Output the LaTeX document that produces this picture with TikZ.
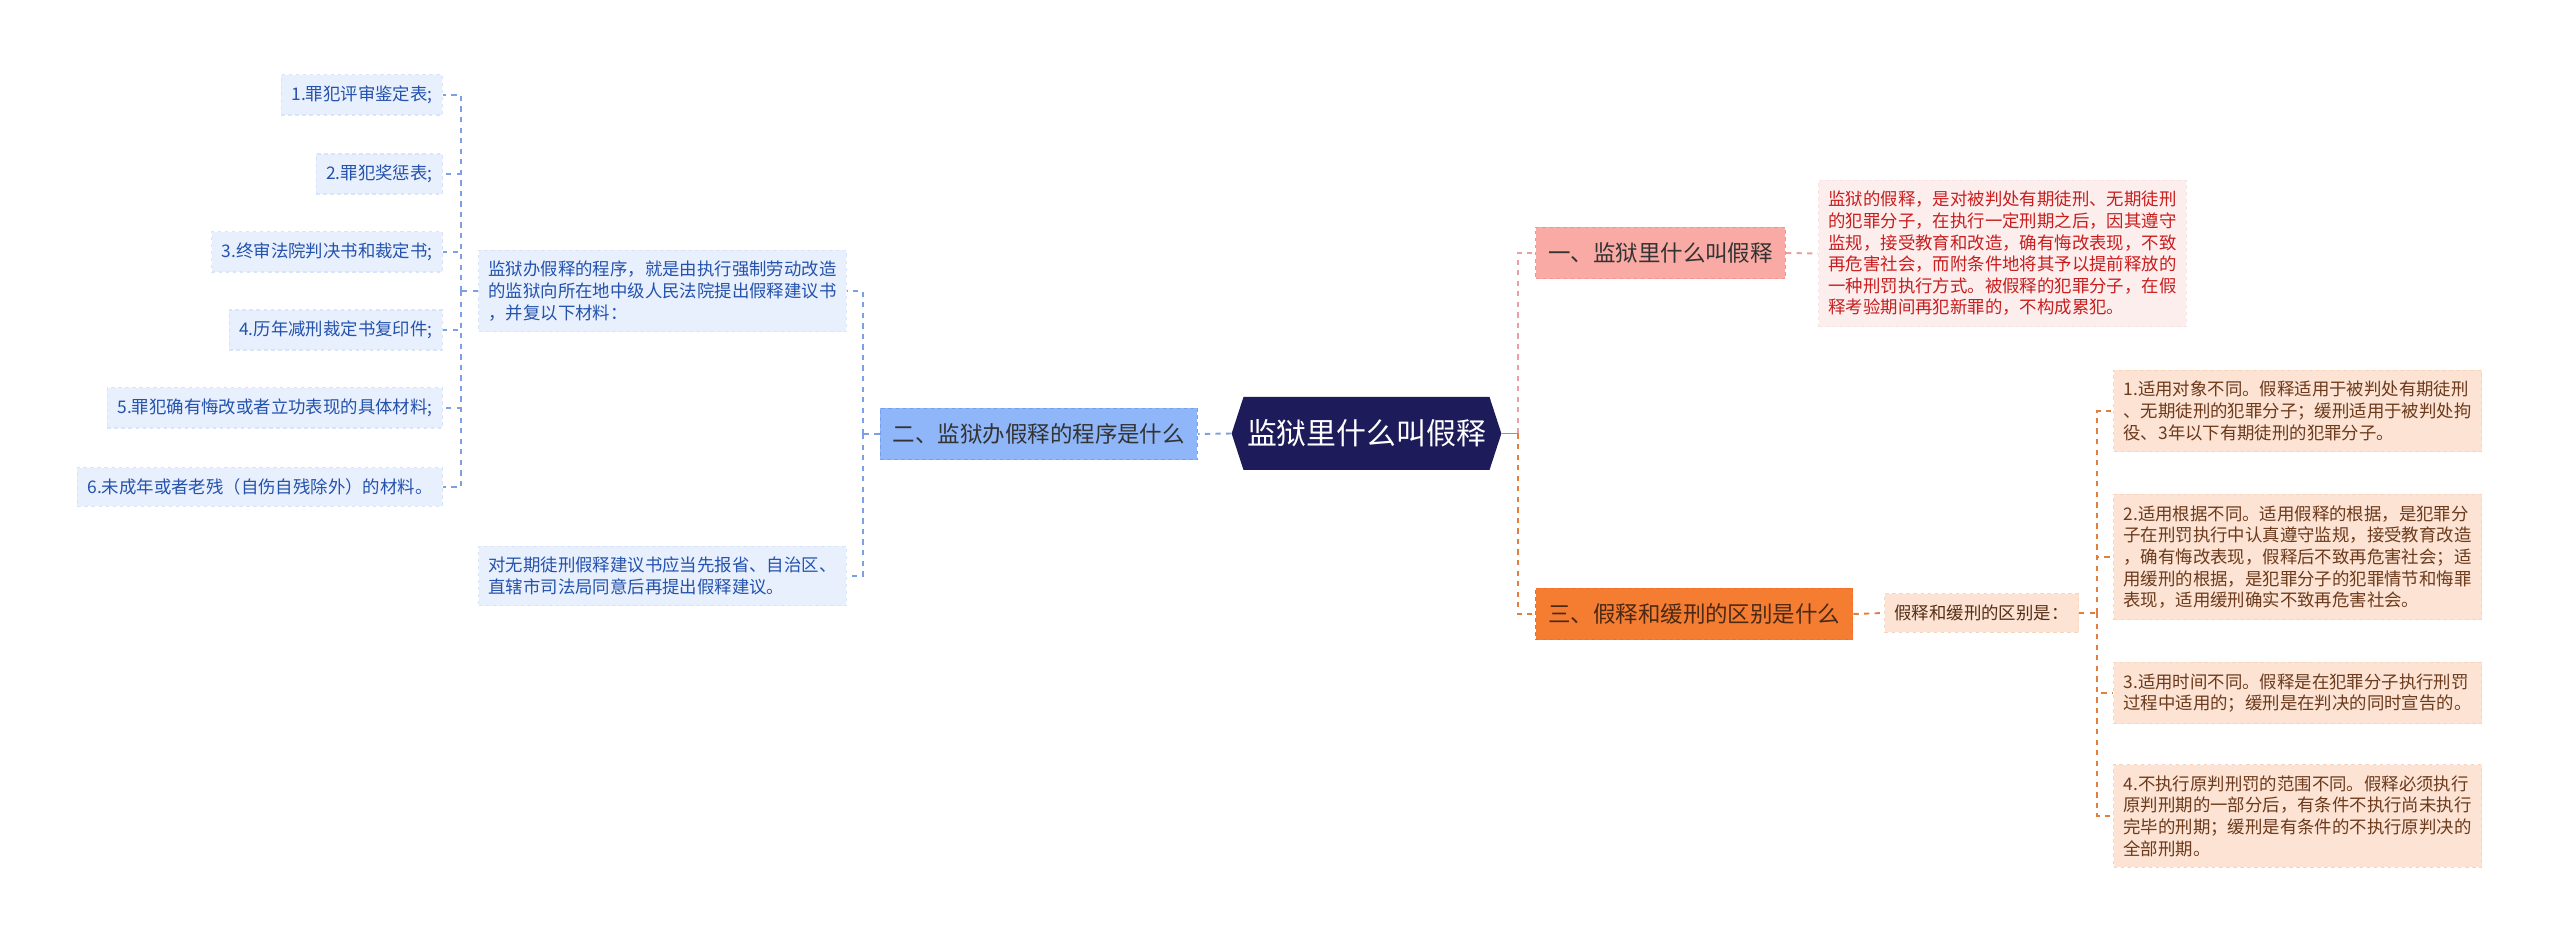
\documentclass[tikz,border=0pt]{standalone}
\usepackage{fontspec}
\setmainfont{Noto Sans CJK SC}
\usepackage{tikz}
\usetikzlibrary{positioning,shapes.symbols}
\definecolor{rootblue}{RGB}{29,27,89}
\definecolor{blueline}{RGB}{125,160,228}
\definecolor{bluehead}{RGB}{143,182,248}
\definecolor{blueedge}{RGB}{118,158,238}
\definecolor{bluebox}{RGB}{232,240,253}
\definecolor{bluetext}{RGB}{36,82,172}
\definecolor{pinkline}{RGB}{232,160,165}
\definecolor{pinkhead}{RGB}{249,170,164}
\definecolor{pinkbox}{RGB}{253,238,238}
\definecolor{pinktext}{RGB}{200,30,30}
\definecolor{orangeline}{RGB}{226,126,62}
\definecolor{orangehead}{RGB}{245,125,50}
\definecolor{orangebox}{RGB}{252,227,211}
\definecolor{orangetext}{RGB}{108,58,28}
\definecolor{darktext}{RGB}{51,51,51}

\begin{document}
\begin{tikzpicture}[
  bline/.style={draw=blueline, line width=1.1pt, dash pattern=on 3pt off 3pt},
  pline/.style={draw=pinkline, line width=1.1pt, dash pattern=on 3pt off 3pt},
  oline/.style={draw=orangeline, line width=1.1pt, dash pattern=on 3pt off 3pt},
  rootnode/.style={shape=signal, signal to=west and east, signal pointer angle=144,
    fill=rootblue, text=white, minimum height=1.46cm, inner xsep=2pt,
    font=\fontsize{17}{20}\selectfont},
  head/.style={inner xsep=0.25cm, inner ysep=0.31cm, line width=0.6pt,
    dash pattern=on 2pt off 2pt, font=\fontsize{12.8}{15}\selectfont},
  leaf/.style={inner xsep=0.2cm, inner ysep=0.22cm, align=left, line width=0.6pt,
    dash pattern=on 2pt off 2pt, font=\fontsize{9.9}{12.3}\selectfont},
  bluenode/.style={leaf, fill=bluebox, draw=bluebox!85!blueline, text=bluetext},
  pinknode/.style={leaf, fill=pinkbox, draw=pinkbox!85!pinkline, text=pinktext},
  orangenode/.style={leaf, fill=orangebox, draw=orangebox!85!orangeline, text=orangetext}
]
  \useasboundingbox (0,0) rectangle (51.2,-18.92);

  \node[rootnode] (root) at (27.33,-8.67) {监狱里什么叫假释};

  \node[head, fill=bluehead, draw=blueedge, text=darktext, anchor=east] (proc) at (23.96,-8.68) {二、监狱办假释的程序是什么};
  \node[head, fill=pinkhead, draw=pinkhead!85!red, text=darktext, anchor=west] (what) at (30.70,-5.06) {一、监狱里什么叫假释};
  \node[head, fill=orangehead, draw=orangehead!85!red, text=orangetext!70!black, anchor=west] (diff) at (30.70,-12.28) {三、假释和缓刑的区别是什么};

  \node[bluenode, anchor=east] (procA) at (16.94,-5.82) {监狱办假释的程序，就是由执行强制劳动改造\\的监狱向所在地中级人民法院提出假释建议书\\，并复以下材料：};
  \node[bluenode, anchor=east] (procB) at (16.94,-11.52) {对无期徒刑假释建议书应当先报省、自治区、\\直辖市司法局同意后再提出假释建议。};

  \node[bluenode, anchor=east] (mat1) at (8.86,-1.90) {1.罪犯评审鉴定表;};
  \node[bluenode, anchor=east] (mat2) at (8.86,-3.48) {2.罪犯奖惩表;};
  \node[bluenode, anchor=east] (mat3) at (8.86,-5.04) {3.终审法院判决书和裁定书;};
  \node[bluenode, anchor=east] (mat4) at (8.86,-6.60) {4.历年减刑裁定书复印件;};
  \node[bluenode, anchor=east] (mat5) at (8.86,-8.16) {5.罪犯确有悔改或者立功表现的具体材料;};
  \node[bluenode, anchor=east] (mat6) at (8.86,-9.74) {6.未成年或者老残（自伤自残除外）的材料。};

  \node[pinknode, anchor=west] (whatA) at (36.36,-5.07) {监狱的假释，是对被判处有期徒刑、无期徒刑\\的犯罪分子，在执行一定刑期之后，因其遵守\\监规，接受教育和改造，确有悔改表现，不致\\再危害社会，而附条件地将其予以提前释放的\\一种刑罚执行方式。被假释的犯罪分子，在假\\释考验期间再犯新罪的，不构成累犯。};

  \node[orangenode, text=orangetext!80!black, anchor=west] (diffA) at (37.68,-12.26) {假释和缓刑的区别是：};

  \node[orangenode, anchor=west] (res1) at (42.26,-8.22) {1.适用对象不同。假释适用于被判处有期徒刑\\、无期徒刑的犯罪分子；缓刑适用于被判处拘\\役、3年以下有期徒刑的犯罪分子。};
  \node[orangenode, anchor=west] (res2) at (42.26,-11.14) {2.适用根据不同。适用假释的根据，是犯罪分\\子在刑罚执行中认真遵守监规，接受教育改造\\，确有悔改表现，假释后不致再危害社会；适\\用缓刑的根据，是犯罪分子的犯罪情节和悔罪\\表现，适用缓刑确实不致再危害社会。};
  \node[orangenode, anchor=west] (res3) at (42.26,-13.86) {3.适用时间不同。假释是在犯罪分子执行刑罚\\过程中适用的；缓刑是在判决的同时宣告的。};
  \node[orangenode, anchor=west] (res4) at (42.26,-16.32) {4.不执行原判刑罚的范围不同。假释必须执行\\原判刑期的一部分后，有条件不执行尚未执行\\完毕的刑期；缓刑是有条件的不执行原判决的\\全部刑期。};

  \coordinate[left=0.34cm of proc.west] (pj);
  \coordinate[left=0.34cm of procA.west] (aj);
  \coordinate[right=0.32cm of root.east] (rj);
  \coordinate[right=0.36cm of diffA.east] (dj);

  \draw[bline] (root.west) -- (proc.east);
  \draw[bline] (proc.west) -- (pj);
  \draw[bline] (pj) |- (procA.east);
  \draw[bline] (pj) |- (procB.east);
  \draw[bline] (procA.west) -- (aj);
  \draw[bline] (aj) |- (mat1.east);
  \draw[bline] (aj) |- (mat2.east);
  \draw[bline] (aj) |- (mat3.east);
  \draw[bline] (aj) |- (mat4.east);
  \draw[bline] (aj) |- (mat5.east);
  \draw[bline] (aj) |- (mat6.east);

  \draw[draw=orangeline, line width=1.1pt] (root.east) -- (rj);
  \draw[pline] (rj) |- (what.west);
  \draw[oline] (rj) |- (diff.west);
  \draw[pline] (what.east) -- (whatA.west);
  \draw[oline] (diff.east) -- (diffA.west);
  \draw[oline] (diffA.east) -- (dj);
  \draw[oline] (dj) |- (res1.west);
  \draw[oline] (dj) |- (res2.west);
  \draw[oline] (dj) |- (res3.west);
  \draw[oline] (dj) |- (res4.west);
\end{tikzpicture}
\end{document}
